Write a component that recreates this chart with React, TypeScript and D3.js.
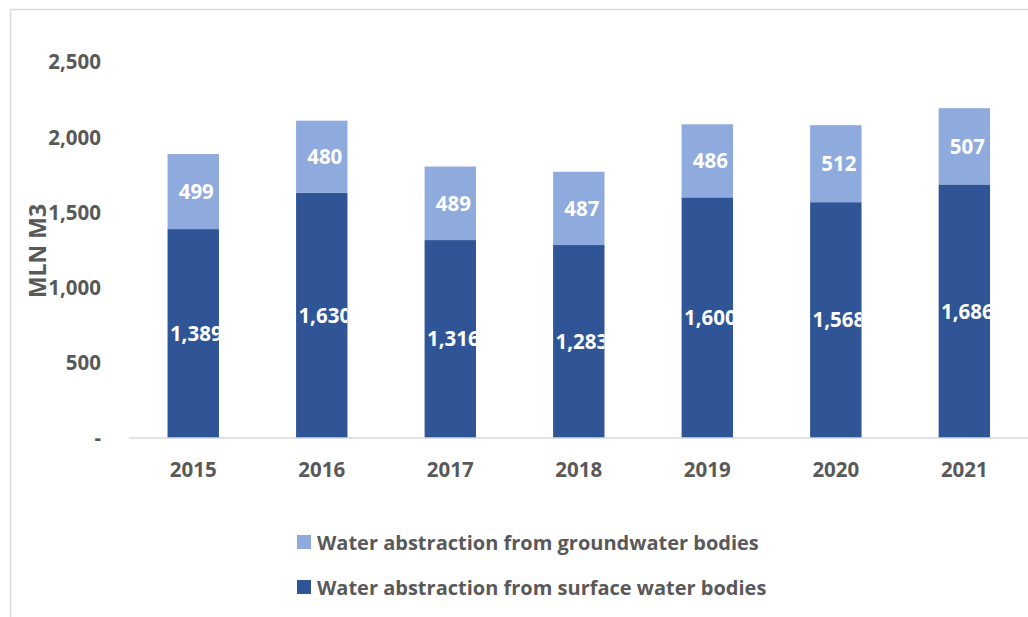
import React from "react";
import * as d3 from "d3";

const years = ["2015", "2016", "2017", "2018", "2019", "2020", "2021"];
const surface = [1389, 1630, 1316, 1283, 1600, 1568, 1686];
const groundwater = [499, 480, 489, 487, 486, 512, 507];
const yTicks = [0, 500, 1000, 1500, 2000, 2500];
const seriesNames = [
  "Water abstraction from groundwater bodies",
  "Water abstraction from surface water bodies",
];

const W = 1028;
const H = 617;
const FONT = "'Open Sans', Lato, sans-serif";
const GRAY = "#595959";
const DARK = "#2F5597";
const LIGHT = "#8FAADC";

export default function App() {
  const x = d3.scaleBand<string>().domain(years).range([129, 1028.6]).paddingInner(0.6).paddingOuter(0.3);
  const y = d3.scaleLinear().domain([0, 2500]).range([438, 62]);
  const fmt = d3.format(",");
  const bw = x.bandwidth();

  return (
    <svg width={W} height={H} style={{ position: "absolute", left: 0, top: 0 }}>
      <defs>
        {years.map((yr, i) => (
          <clipPath id={`clip-${i}`} key={yr}>
            <rect x={x(yr)} y={y(surface[i] + groundwater[i])} width={bw} height={y(0) - y(surface[i] + groundwater[i])} />
          </clipPath>
        ))}
      </defs>
      <rect x={0} y={0} width={W} height={H} fill="#fff" />
      <rect x={10.5} y={9.5} width={W + 10} height={H + 10} fill="none" stroke="#D9D9D9" strokeWidth={1.5} />

      {/* y ticks */}
      {yTicks.map((t) => (
        <text key={t} x={101} y={y(t)} dy="0.36em" textAnchor="end" fontFamily={FONT} fontWeight="bold" fontSize={20.5} fill={GRAY}>
          {t === 0 ? "-" : fmt(t)}
        </text>
      ))}

      {/* y title */}
      <text transform={`translate(46,251) rotate(-90)`} textAnchor="middle" fontFamily={FONT} fontWeight="bold" fontSize={23} fill={GRAY}>
        MLN M3
      </text>

      {/* bars */}
      {years.map((yr, i) => {
        const x0 = x(yr)!;
        const s = surface[i];
        const g = groundwater[i];
        return (
          <g key={yr}>
            <rect x={x0} y={y(s)} width={bw} height={y(0) - y(s)} fill={DARK} />
            <rect x={x0} y={y(s + g)} width={bw} height={y(s) - y(s + g)} fill={LIGHT} />
            <g clipPath={`url(#clip-${i})`}>
              <text x={x0 + bw / 2 + 3} y={(y(s) + y(s + g)) / 2} dy="0.36em" textAnchor="middle" fontFamily={FONT} fontWeight="bold" fontSize={20.5} fill="#fff">
                {fmt(g)}
              </text>
              <text x={x0 + bw / 2 + 3} y={(y(0) + y(s)) / 2} dy="0.36em" textAnchor="middle" fontFamily={FONT} fontWeight="bold" fontSize={20.5} fill="#fff">
                {fmt(s)}
              </text>
            </g>
          </g>
        );
      })}

      {/* x axis line */}
      <line x1={129} x2={1028} y1={438} y2={438} stroke="#D9D9D9" strokeWidth={1.5} />
      {years.map((yr) => (
        <text key={yr} x={x(yr)! + bw / 2} y={477} textAnchor="middle" fontFamily={FONT} fontWeight="bold" fontSize={20.5} fill={GRAY}>
          {yr}
        </text>
      ))}

      {/* legend */}
      {seriesNames.map((name, i) => (
        <g key={name} transform={`translate(297,${535 + i * 45})`}>
          <rect x={0} y={0} width={14} height={14} fill={i === 0 ? LIGHT : DARK} />
          <text x={20} y={15} fontFamily={FONT} fontWeight="bold" fontSize={20} fill={GRAY}>
            {name}
          </text>
        </g>
      ))}
    </svg>
  );
}
